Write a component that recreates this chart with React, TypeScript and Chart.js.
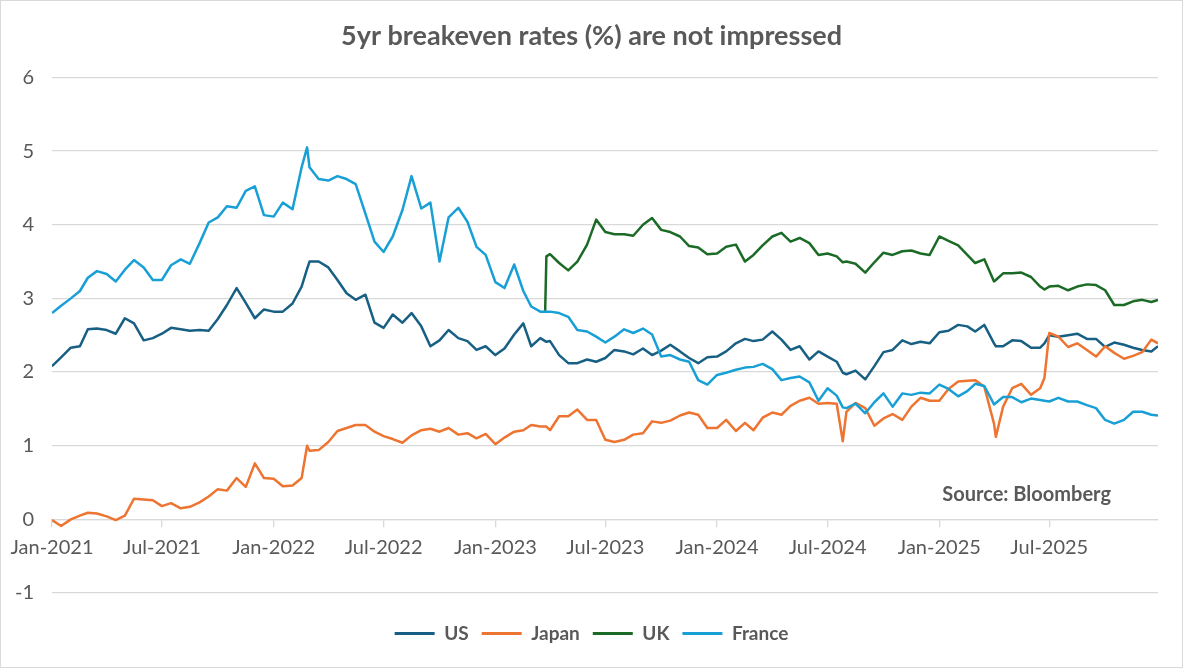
import React, { useEffect, useRef } from 'react';
import { Chart, registerables } from 'chart.js';

Chart.register(...registerables);

const titleText = '5yr breakeven rates (%) are not impressed';
const sourceText = 'Source: Bloomberg';

const dates = [
  '2021-01-01','2021-01-16','2021-02-01','2021-02-16','2021-03-01','2021-03-16','2021-04-01','2021-04-16','2021-05-01','2021-05-16','2021-06-01','2021-06-16','2021-07-01','2021-07-16','2021-08-01','2021-08-16','2021-09-01','2021-09-16','2021-10-01','2021-10-16','2021-11-01','2021-11-16','2021-12-01','2021-12-16',
  '2022-01-01','2022-01-16','2022-02-01','2022-02-16','2022-02-25','2022-03-01','2022-03-16','2022-04-01','2022-04-16','2022-05-01','2022-05-16','2022-06-01','2022-06-16','2022-07-01','2022-07-16','2022-08-01','2022-08-16','2022-09-01','2022-09-16','2022-10-01','2022-10-16','2022-11-01','2022-11-16','2022-12-01','2022-12-16',
  '2023-01-01','2023-01-16','2023-02-01','2023-02-16','2023-03-01','2023-03-16','2023-03-24','2023-03-26','2023-04-01','2023-04-16','2023-05-01','2023-05-16','2023-06-01','2023-06-16','2023-07-01','2023-07-16','2023-08-01','2023-08-16','2023-09-01','2023-09-16','2023-10-01','2023-10-16','2023-11-01','2023-11-16','2023-12-01','2023-12-16',
  '2024-01-01','2024-01-16','2024-02-01','2024-02-16','2024-03-01','2024-03-16','2024-04-01','2024-04-16','2024-05-01','2024-05-16','2024-06-01','2024-06-16','2024-07-01','2024-07-16','2024-07-26','2024-08-01','2024-08-16','2024-09-01','2024-09-16','2024-10-01','2024-10-16','2024-11-01','2024-11-16','2024-12-01','2024-12-16',
  '2025-01-01','2025-01-16','2025-02-01','2025-02-16','2025-03-01','2025-03-16','2025-04-01','2025-04-04','2025-04-16','2025-05-01','2025-05-16','2025-06-01','2025-06-16','2025-06-23','2025-07-01','2025-07-16','2025-08-01','2025-08-16','2025-09-01','2025-09-16','2025-10-01','2025-10-16','2025-11-01','2025-11-16','2025-12-01','2025-12-16','2025-12-27',
];

const us = [
  2.08, 2.20, 2.33, 2.35, 2.58, 2.59, 2.57, 2.52, 2.73, 2.66, 2.43, 2.46, 2.52, 2.60, 2.58, 2.56, 2.57, 2.56, 2.72, 2.91, 3.14, 2.94, 2.73, 2.85,
  2.82, 2.82, 2.93, 3.16, 3.40, 3.50, 3.50, 3.42, 3.25, 3.07, 2.98, 3.05, 2.67, 2.60, 2.78, 2.67, 2.80, 2.62, 2.35, 2.43, 2.57, 2.46, 2.42, 2.30, 2.35,
  2.23, 2.32, 2.51, 2.66, 2.35, 2.46, 2.42, 2.41, 2.42, 2.23, 2.12, 2.12, 2.17, 2.14, 2.19, 2.30, 2.28, 2.24, 2.32, 2.23, 2.29, 2.37, 2.28, 2.19, 2.12, 2.20,
  2.21, 2.28, 2.39, 2.45, 2.42, 2.44, 2.55, 2.44, 2.30, 2.35, 2.17, 2.28, 2.21, 2.14, 1.99, 1.97, 2.02, 1.90, 2.08, 2.27, 2.30, 2.43, 2.38, 2.41, 2.39,
  2.54, 2.56, 2.64, 2.62, 2.55, 2.64, 2.39, 2.35, 2.35, 2.43, 2.42, 2.33, 2.33, 2.39, 2.50, 2.48, 2.50, 2.52, 2.45, 2.45, 2.34, 2.40, 2.37, 2.33, 2.30, 2.28, 2.35,
];

const japan = [
  -0.01, -0.09, 0.00, 0.05, 0.09, 0.08, 0.04, -0.01, 0.05, 0.28, 0.27, 0.26, 0.18, 0.22, 0.15, 0.17, 0.23, 0.31, 0.41, 0.39, 0.56, 0.44, 0.76, 0.56,
  0.55, 0.45, 0.46, 0.56, 1.00, 0.93, 0.94, 1.05, 1.20, 1.24, 1.28, 1.28, 1.19, 1.13, 1.09, 1.04, 1.14, 1.21, 1.23, 1.19, 1.24, 1.15, 1.17, 1.10, 1.16,
  1.02, 1.11, 1.19, 1.21, 1.28, 1.26, 1.26, 1.26, 1.21, 1.40, 1.40, 1.49, 1.35, 1.35, 1.08, 1.05, 1.08, 1.15, 1.17, 1.33, 1.31, 1.34, 1.41, 1.45, 1.42, 1.24,
  1.24, 1.35, 1.20, 1.31, 1.21, 1.38, 1.45, 1.42, 1.54, 1.61, 1.65, 1.57, 1.58, 1.57, 1.06, 1.46, 1.58, 1.51, 1.27, 1.37, 1.43, 1.35, 1.53, 1.65, 1.61,
  1.61, 1.77, 1.87, 1.88, 1.89, 1.80, 1.30, 1.12, 1.53, 1.78, 1.84, 1.69, 1.78, 1.92, 2.53, 2.48, 2.34, 2.39, 2.30, 2.21, 2.35, 2.26, 2.18, 2.22, 2.27, 2.44, 2.39,
];

const uk = [
  null, null, null, null, null, null, null, null, null, null, null, null, null, null, null, null, null, null, null, null, null, null, null, null,
  null, null, null, null, null, null, null, null, null, null, null, null, null, null, null, null, null, null, null, null, null, null, null, null, null,
  null, null, null, null, null, null, 2.83, 3.57, 3.60, 3.48, 3.38, 3.50, 3.73, 4.07, 3.90, 3.87, 3.87, 3.85, 4.00, 4.09, 3.93, 3.90, 3.84, 3.71, 3.69, 3.60,
  3.61, 3.70, 3.73, 3.50, 3.59, 3.72, 3.84, 3.89, 3.77, 3.82, 3.75, 3.59, 3.61, 3.57, 3.49, 3.50, 3.47, 3.35, 3.49, 3.62, 3.59, 3.64, 3.65, 3.61, 3.59,
  3.84, 3.78, 3.72, 3.59, 3.48, 3.53, 3.23, 3.25, 3.34, 3.34, 3.35, 3.29, 3.16, 3.12, 3.16, 3.17, 3.11, 3.16, 3.19, 3.18, 3.11, 2.91, 2.91, 2.96, 2.98, 2.95, 2.98,
];

const france = [
  2.80, 2.90, 3.00, 3.10, 3.28, 3.37, 3.33, 3.23, 3.39, 3.52, 3.42, 3.25, 3.25, 3.45, 3.53, 3.47, 3.75, 4.03, 4.10, 4.25, 4.23, 4.46, 4.52, 4.13,
  4.11, 4.30, 4.21, 4.78, 5.05, 4.78, 4.62, 4.60, 4.66, 4.62, 4.55, 4.15, 3.77, 3.63, 3.84, 4.20, 4.66, 4.22, 4.30, 3.50, 4.10, 4.23, 4.04, 3.70, 3.59,
  3.22, 3.14, 3.46, 3.10, 2.89, 2.82, 2.82, 2.82, 2.82, 2.80, 2.75, 2.57, 2.55, 2.48, 2.40, 2.48, 2.58, 2.53, 2.59, 2.51, 2.21, 2.23, 2.17, 2.14, 1.89, 1.83,
  1.96, 1.99, 2.03, 2.06, 2.07, 2.11, 2.04, 1.89, 1.92, 1.94, 1.86, 1.61, 1.78, 1.68, 1.52, 1.51, 1.57, 1.44, 1.59, 1.71, 1.53, 1.71, 1.69, 1.72, 1.71,
  1.83, 1.77, 1.67, 1.74, 1.84, 1.81, 1.56, 1.58, 1.66, 1.66, 1.59, 1.64, 1.62, 1.61, 1.60, 1.65, 1.60, 1.60, 1.55, 1.51, 1.35, 1.30, 1.35, 1.46, 1.46, 1.42, 1.41,
];

const tickDates = ['2021-01-01','2021-07-01','2022-01-01','2022-07-01','2023-01-01','2023-07-01','2024-01-01','2024-07-01','2025-01-01','2025-07-01'];
const tickLabels = ['Jan-2021','Jul-2021','Jan-2022','Jul-2022','Jan-2023','Jul-2023','Jan-2024','Jul-2024','Jan-2025','Jul-2025'];

const seriesNames = ['US', 'Japan', 'UK', 'France'];
const seriesColors = ['#185F84', '#ED7431', '#1B6B26', '#18A0D6'];

const FONT = 'Lato';
const TEXT = '#595959';
const GRID = '#D9D9D9';

export default function App() {
  const ref = useRef<HTMLCanvasElement>(null);

  useEffect(() => {
    if (!ref.current) return;
    const toPts = (vals: (number | null)[]) => dates.map((d, i) => ({ x: Date.parse(d), y: vals[i] }));
    const allSeries = [us, japan, uk, france];

    const sourcePlugin = {
      id: 'sourceNote',
      afterDatasetsDraw(chart: any) {
        const { ctx, chartArea, scales } = chart;
        ctx.save();
        ctx.font = `bold 20px ${FONT}`;
        ctx.fillStyle = TEXT;
        ctx.textAlign = 'right';
        ctx.textBaseline = 'middle';
        ctx.fillText(sourceText, chartArea.right - 47, scales.y.getPixelForValue(0.33));
        ctx.restore();
      },
    };

    const chart = new Chart(ref.current, {
      type: 'line',
      data: {
        datasets: seriesNames.map((name, i) => ({
          label: name,
          data: toPts(allSeries[i]) as any,
          borderColor: seriesColors[i],
          backgroundColor: seriesColors[i],
          borderWidth: 2.5,
          pointRadius: 0,
          tension: 0,
          fill: false,
          spanGaps: false,
          borderJoinStyle: 'round' as const,
          order: seriesNames.length - i,
        })),
      },
      options: {
        animation: false,
        responsive: true,
        maintainAspectRatio: false,
        layout: { padding: { left: 0, right: 0, top: 0, bottom: 15 } },
        scales: {
          x: {
            type: 'linear',
            min: Date.parse(dates[0]),
            max: Date.parse(dates[dates.length - 1]),
            position: { y: 0 } as any,
            afterBuildTicks: (s: any) => {
              s.ticks = tickDates.map((d) => ({ value: Date.parse(d) }));
            },
            afterFit: (s: any) => {
              s.height = 0;
            },
            grid: { drawOnChartArea: false, drawTicks: true, tickLength: 7, color: GRID, lineWidth: 1.3 },
            border: { display: true, color: GRID, width: 1.3 },
            ticks: {
              autoSkip: false,
              maxRotation: 0,
              padding: 9,
              color: TEXT,
              font: { family: FONT, size: 20 },
              callback: (_v: any, i: number) => tickLabels[i],
            },
          },
          y: {
            min: -1,
            max: 6,
            afterFit: (s: any) => {
              s.width = 52;
            },
            ticks: { stepSize: 1, padding: 18, color: TEXT, font: { family: FONT, size: 20 } },
            grid: { color: GRID, lineWidth: 1.3, drawTicks: false },
            border: { display: false },
          },
          yRight: {
            position: 'right',
            min: -1,
            max: 6,
            afterFit: (s: any) => {
              s.width = 25;
            },
            ticks: { display: false },
            grid: { display: false, drawOnChartArea: false, drawTicks: false },
            border: { display: false },
          },
        },
        plugins: {
          tooltip: { enabled: false },
          title: {
            display: true,
            text: titleText,
            color: TEXT,
            font: { family: FONT, size: 27, weight: 'bold' },
            padding: { top: 20, bottom: 25 },
          },
          legend: {
            position: 'bottom',
            title: { display: true, text: '', padding: 0, font: { size: 15 } },
            labels: {
              boxWidth: 40,
              boxHeight: 3,
              padding: 13,
              color: TEXT,
              font: { family: FONT, size: 19, weight: 'bold' },
              sort: (a: any, b: any) => a.datasetIndex - b.datasetIndex,
              generateLabels: (c: any) =>
                (Chart.defaults.plugins.legend.labels.generateLabels as any)(c).map((l: any) => ({ ...l, lineWidth: 0 })),
            },
          },
        },
      } as any,
      plugins: [sourcePlugin],
    });

    return () => chart.destroy();
  }, []);

  return (
    <div style={{ position: 'fixed', left: 0, top: 0, width: 1183, height: 668, background: '#fff' }}>
      <canvas ref={ref} />
      <div
        style={{
          position: 'absolute',
          inset: 0,
          border: `1px solid ${GRID}`,
          boxSizing: 'border-box',
          pointerEvents: 'none',
        }}
      />
    </div>
  );
}
